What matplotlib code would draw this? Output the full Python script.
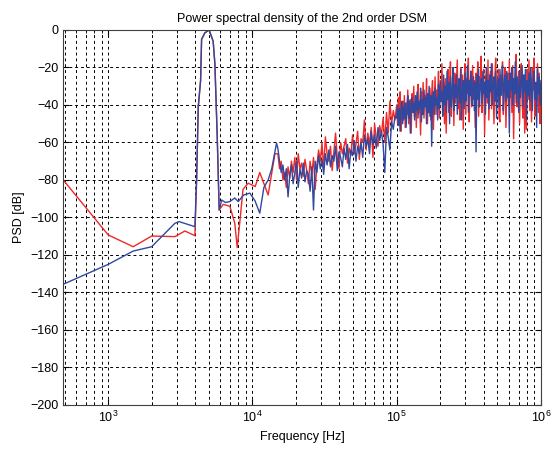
import numpy as np
import matplotlib
matplotlib.use('Agg')
import matplotlib.pyplot as plt

plt.rcParams['font.family'] = ['Liberation Sans', 'DejaVu Sans']

# low frequency part (Hz, dB)
red_f_lo = [488, 1000, 1490, 2000, 2900, 3400, 3990, 4100, 4210, 4370, 4440, 4680, 5010,
            5340, 5490, 5700, 5880, 6270, 6970, 7540, 7840, 8160, 8600, 9340, 10450,
            11240, 12850, 14320]
red_lo = [-80, -109.3, -115.6, -109.9, -110.2, -107.2, -109.7, -80, -41, -27, -5, -1.5, 0,
          -6, -18, -57, -96, -93, -94, -103, -116, -103, -85, -81.7, -83.5,
          -76, -88, -66]

blue_f_lo = [488, 1000, 1490, 2000, 2900, 3100, 3990, 4100, 4210, 4370, 4440, 4680, 5010,
             5340, 5490, 5700, 5880, 6120, 6500, 6970, 7540, 7960, 8700, 9590, 10400,
             11240, 12000, 12850, 13600, 14690]
blue_lo = [-135.6, -125, -117.9, -115.6, -103.1, -102.2, -104.9, -80, -41, -27, -5, -1.5, 0,
           -6, -18, -57, -96, -90.7, -92, -91.5, -89.6, -91.5, -88, -87, -91,
           -97.7, -84, -80, -74, -60.4]

# noisy part, 15 kHz .. 100 kHz
red_mid = [-66, -74, -70, -80, -76, -84, -73, -79, -70, -76,
           -68, -80, -66, -74, -71, -78, -69, -75, -82, -70,
           -77, -68, -85, -72, -64, -70, -60, -74, -57, -66,
           -70, -62, -75, -65, -55, -68, -74, -60, -66, -62,
           -58, -71, -63, -67, -56, -66, -61, -54, -69, -58,
           -60, -48, -64, -55, -61, -52, -68, -50, -58, -62,
           -51, -56, -47, -60, -44, -55, -38, -50, -43, -48]
blue_mid = [-63, -70, -76, -72, -80, -74, -89, -78, -72, -82,
            -76, -70, -84, -74, -79, -71, -81, -75, -77, -86,
            -73, -96, -70, -76, -67, -74, -69, -77, -66, -72,
            -64, -73, -67, -70, -62, -75, -65, -68, -73, -63,
            -69, -61, -74, -64, -67, -59, -70, -62, -66, -60,
            -68, -56, -62, -58, -66, -54, -61, -56, -63, -52,
            -59, -54, -61, -76, -52, -57, -64, -49, -53, -46]

# noisy part, 100 kHz .. 1 MHz
red_hi = [-40, -50, -36, -46, -33, -54, -42, -38, -48, -35,
          -52, -39, -45, -32, -50, -41, -37, -55, -34, -43,
          -30, -46, -38, -52, -36, -29, -44, -40, -56, -33,
          -42, -28, -47, -35, -40, -26, -50, -37, -44, -31,
          -48, -34, -27, -53, -38, -25, -45, -32, -36, -22,
          -47, -30, -35, -18, -43, -28, -50, -26, -55, -34,
          -21, -44, -29, -17, -46, -33, -25, -51, -23, -39,
          -28, -16, -42, -31, -48, -20, -36, -24, -53, -30,
          -18, -45, -26, -34, -15, -49, -29, -22, -41, -19,
          -37, -27, -52, -23, -33, -17, -46, -25, -31, -14,
          -44, -28, -21, -56, -30, -24, -39, -16, -48, -27,
          -22, -42, -18, -35, -50, -26, -15, -38, -29, -21,
          -47, -49, -24, -33, -17, -45, -28, -20, -52, -31,
          -23, -40, -16, -36, -27, -44, -19, -58, -30, -25,
          -13, -41, -34, -22, -50, -27, -18, -39, -47, -24,
          -55, -29, -53, -21, -37, -16, -43, -26, -49, -20,
          -32, -15, -46, -28, -38, -18, -44, -23, -50, -35]
blue_hi = [-47, -40, -51, -42, -54, -43, -38, -50, -41, -47,
           -39, -52, -42, -35, -47, -38, -55, -40, -36, -44,
           -39, -48, -35, -43, -33, -47, -38, -42, -31, -49,
           -37, -45, -32, -41, -36, -50, -34, -44, -30, -46,
           -35, -62, -38, -33, -45, -31, -40, -36, -48, -29,
           -42, -27, -38, -33, -46, -24, -40, -30, -44, -22,
           -37, -28, -50, -25, -41, -32, -20, -43, -29, -36,
           -24, -45, -31, -26, -39, -21, -48, -33, -27, -42,
           -23, -38, -30, -19, -44, -27, -35, -22, -40, -31,
           -25, -43, -28, -65, -24, -37, -21, -41, -30, -26,
           -39, -22, -34, -28, -45, -20, -36, -27, -42, -24,
           -33, -18, -40, -29, -25, -38, -22, -47, -31, -26,
           -41, -21, -35, -28, -19, -43, -30, -24, -38, -22,
           -36, -27, -55, -23, -32, -20, -40, -26, -34, -17,
           -39, -25, -30, -44, -22, -36, -28, -19, -41, -24,
           -33, -21, -48, -27, -35, -23, -38, -20, -31, -43,
           -26, -22, -37, -28, -52, -21, -34, -25, -40, -27]

f_mid = np.geomspace(1.5e4, 1e5, len(blue_mid), endpoint=False)
f_hi = np.geomspace(1e5, 1e6, len(blue_hi))

red_f = np.concatenate([red_f_lo, f_mid, f_hi])
red = np.concatenate([red_lo, red_mid, red_hi])
blue_f = np.concatenate([blue_f_lo, f_mid, f_hi])
blue = np.concatenate([blue_lo, blue_mid, blue_hi])

fig = plt.figure(figsize=(5.51, 4.55), dpi=100)
ax = fig.add_axes([0.1149, 0.1099, 0.8668, 0.8242])

ax.semilogx(red_f, red, color='#f02828', lw=1.0)
ax.semilogx(blue_f, blue, color='#3048a0', lw=1.0)

ax.set_xlim(488.28, 1e6)
ax.set_ylim(-200, 0)
ax.set_yticks(np.arange(-200, 1, 20))
ax.grid(True, which='major', color='k', linestyle=(0, (3, 3)), lw=0.7)
ax.grid(True, which='minor', axis='x', color='k', linestyle=(0, (3, 3)), lw=0.7)
ax.tick_params(which='both', direction='in', top=True, right=True, labelsize=9)
ax.tick_params(which='major', length=4)
ax.tick_params(which='minor', length=2)
for s in ax.spines.values():
    s.set_color('#404040')

ax.set_title('Power spectral density of the 2nd order DSM', fontsize=9)
ax.set_xlabel('Frequency [Hz]', fontsize=9)
ax.set_ylabel('PSD [dB]', fontsize=9)

fig.savefig('out.png', dpi=100)
